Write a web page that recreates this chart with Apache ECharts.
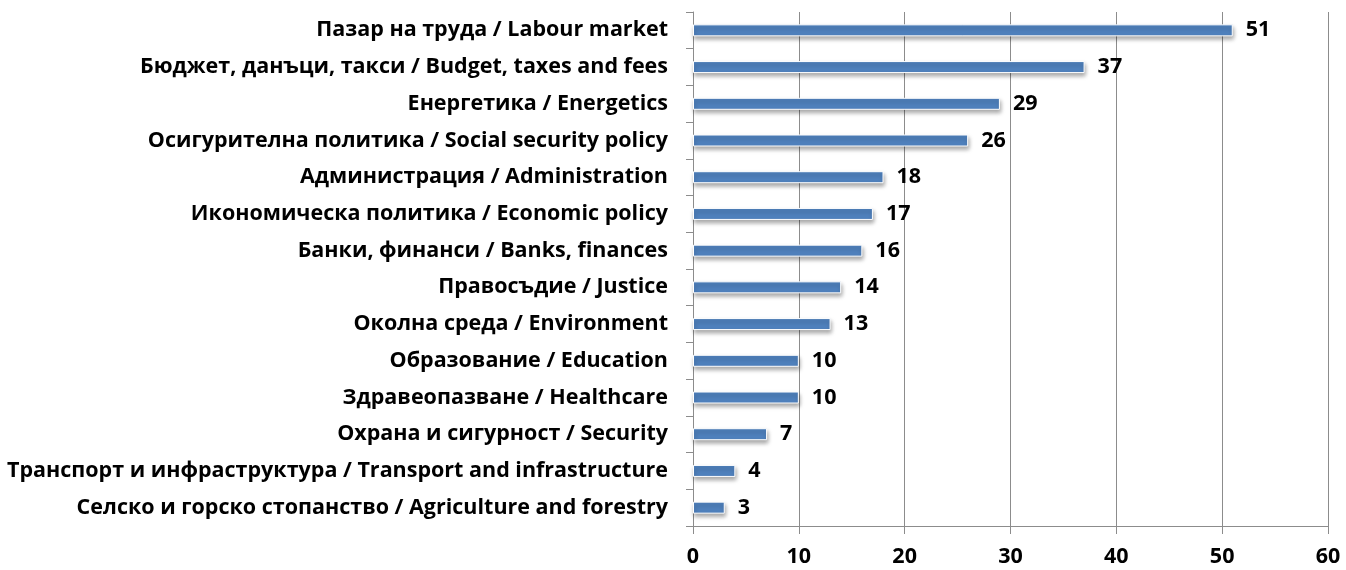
<!DOCTYPE html>
<html><head><meta charset="utf-8">
<script src="https://cdn.jsdelivr.net/npm/echarts@6/dist/echarts.min.js"></script>
<style>html,body{margin:0;padding:0;background:#fff}#c{width:1346px;height:570px}</style>
</head><body><div id="c"></div>
<script>
const categories = [
  "Пазар на труда / Labour market",
  "Бюджет, данъци, такси / Budget, taxes and fees",
  "Енергетика / Energetics",
  "Осигурителна политика / Social security policy",
  "Администрация / Administration",
  "Икономическа политика / Economic policy",
  "Банки, финанси / Banks, finances",
  "Правосъдие / Justice",
  "Околна среда / Environment",
  "Образование / Education",
  "Здравеопазване / Healthcare",
  "Охрана и сигурност / Security",
  "Транспорт и инфраструктура / Transport and infrastructure",
  "Селско и горско стопанство / Agriculture and forestry"
];
const values = [51, 37, 29, 26, 18, 17, 16, 14, 13, 10, 10, 7, 4, 3];
const FONT = "'Open Sans', sans-serif";
const chart = echarts.init(document.getElementById('c'));
chart.setOption({
  animation: false,
  grid: {left: 693, right: 18, top: 12, bottom: 44, containLabel: false},
  xAxis: {
    type: 'value', min: 0, max: 60, interval: 10,
    axisLine: {show: true, lineStyle: {color: '#8c8c8c', width: 1}},
    axisTick: {show: true, length: 8, lineStyle: {color: '#8c8c8c'}},
    splitLine: {show: true, lineStyle: {color: '#8c8c8c', width: 1}},
    axisLabel: {color: '#000', fontFamily: FONT, fontWeight: 'bold', fontSize: 21.5, margin: 20}
  },
  yAxis: {
    type: 'category', inverse: true, data: categories,
    axisLine: {show: true, lineStyle: {color: '#8c8c8c', width: 1}},
    axisTick: {show: true, length: 7, lineStyle: {color: '#8c8c8c'}},
    axisLabel: {color: '#000', fontFamily: FONT, fontWeight: 'bold', fontSize: 21.5, margin: 25}
  },
  series: [{
    type: 'bar', data: values, barWidth: 12,
    itemStyle: {color: '#4F81BD', borderColor: '#ffffff', borderWidth: 1,
      shadowColor: 'rgba(0,0,0,0.35)', shadowBlur: 4, shadowOffsetY: 3, shadowOffsetX: 1},
    label: {show: true, position: 'right', distance: 13, color: '#000',
      fontFamily: FONT, fontWeight: 'bold', fontSize: 21.5}
  }]
});
</script></body></html>
